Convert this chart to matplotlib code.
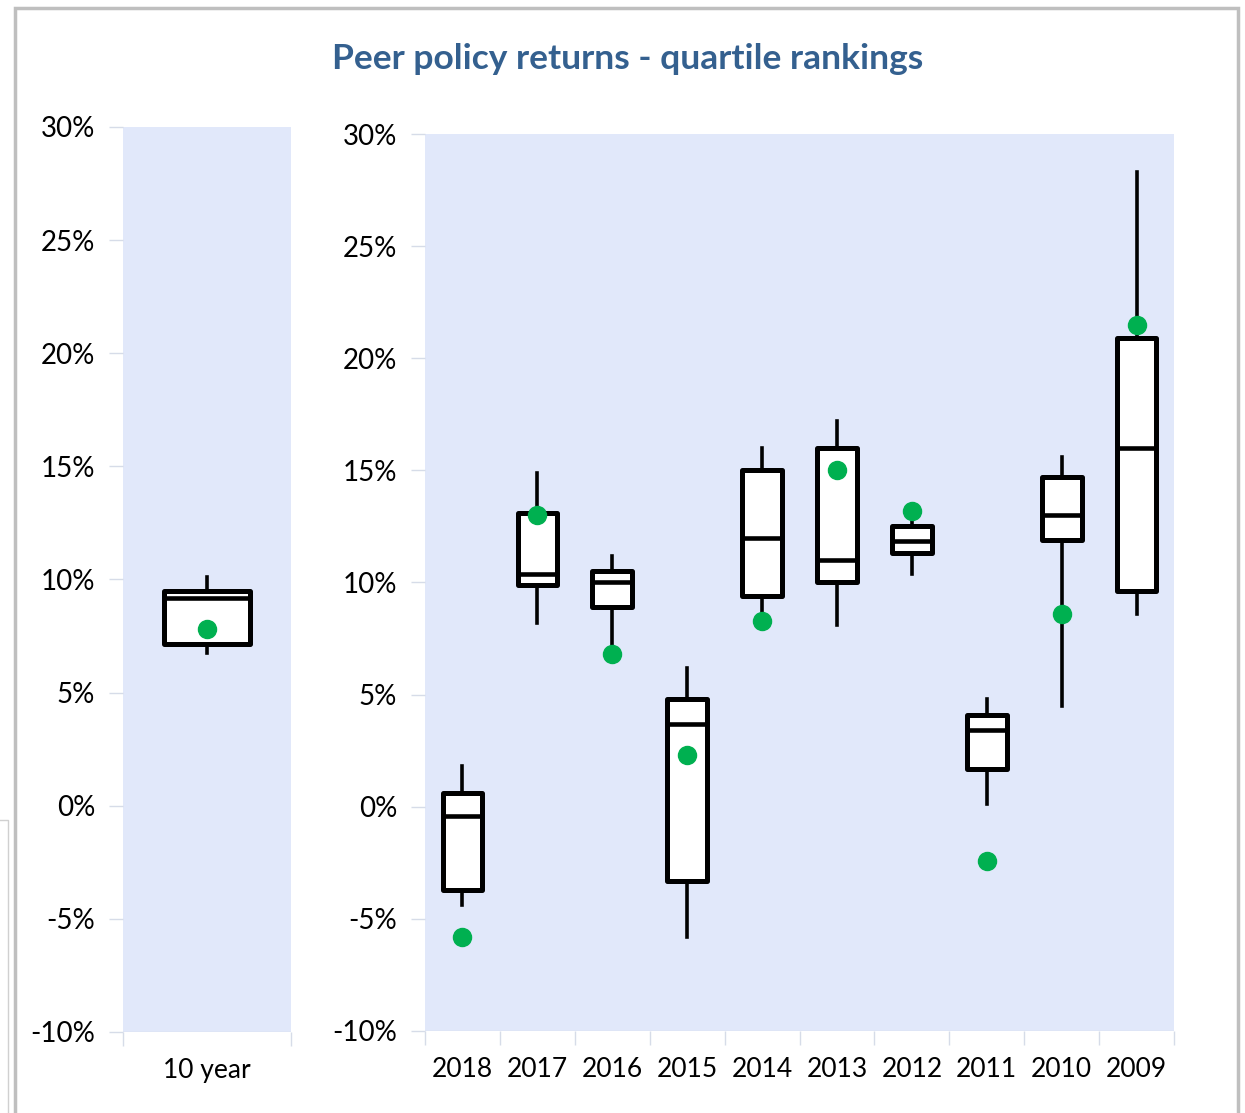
import matplotlib.pyplot as plt
from matplotlib.lines import Line2D
from matplotlib.patches import Rectangle
from matplotlib.ticker import FuncFormatter

plt.rcParams['font.family'] = ['Lato', 'DejaVu Sans']

years = ['2018', '2017', '2016', '2015', '2014', '2013', '2012', '2011', '2010', '2009']
whisk_hi = [1.8, 14.9, 11.2, 6.2, 16.0, 17.2, 13.1, 4.8, 15.6, 28.3]
q3 = [0.6, 13.1, 10.5, 4.8, 15.0, 16.0, 12.5, 4.1, 14.7, 20.9]
median = [-0.4, 10.4, 10.0, 3.7, 12.0, 11.0, 11.85, 3.4, 13.0, 16.0]
q1 = [-3.7, 9.9, 8.9, -3.3, 9.4, 10.0, 11.3, 1.7, 11.9, 9.6]
whisk_lo = [-4.4, 8.2, 7.2, -5.8, 8.7, 8.1, 10.4, 0.1, 4.5, 8.6]
policy = [-5.8, 13.0, 6.8, 2.3, 8.3, 15.0, 13.2, -2.4, 8.6, 21.5]

ten_label = '10 year'
ten_stats = [10.1, 9.5, 9.2, 7.15, 6.75]  # whisker hi, q3, median, q1, whisker lo
ten_policy = 7.8

bg = '#E1E8FA'
tick_col = '#D6DCE8'
box_kw = dict(boxprops=dict(edgecolor='black', linewidth=3.6, facecolor='white', joinstyle='round'),
              medianprops=dict(color='black', linewidth=3.3),
              whiskerprops=dict(color='black', linewidth=2.6),
              capprops=dict(linewidth=0), patch_artist=True, showfliers=False)

fig = plt.figure(figsize=(12.45, 11.13), dpi=100)
ax1 = fig.add_axes([0.0988, 0.0728, 0.135, 0.8131])
ax2 = fig.add_axes([0.3414, 0.0737, 0.6016, 0.8059])


def pct(v, pos):
    return '%d%%' % round(v)


# left panel: 10 year
st = [dict(whishi=ten_stats[0], q3=ten_stats[1], med=ten_stats[2], q1=ten_stats[3],
           whislo=ten_stats[4], label=ten_label)]
ax1.bxp(st, positions=[0], widths=0.51, **box_kw)
ax1.plot([0], [ten_policy], 'o', color='#00B050', markersize=13, zorder=5)
ax1.set_xlim(-0.5, 0.5)
ax1.set_xticks([-0.5, 0.5], minor=True)
ax1.set_xticks([0])
ax1.set_xticklabels([ten_label])

# right panel: yearly
stats = []
for i in range(len(years)):
    stats.append(dict(whishi=whisk_hi[i], q3=q3[i], med=median[i], q1=q1[i],
                      whislo=whisk_lo[i], label=years[i]))
pos = list(range(len(years)))
ax2.bxp(stats, positions=pos, widths=0.53, **box_kw)
ax2.plot(pos, policy, 'o', color='#00B050', markersize=13, linestyle='none', zorder=5)
ax2.set_xlim(-0.5, len(years) - 0.5)
ax2.set_xticks([p - 0.5 for p in range(len(years) + 1)], minor=True)
ax2.set_xticks(pos)
ax2.set_xticklabels(years)

for ax in (ax1, ax2):
    ax.set_facecolor(bg)
    ax.set_ylim(-10, 30)
    ax.set_yticks(range(-10, 31, 5))
    ax.yaxis.set_major_formatter(FuncFormatter(pct))
    for s in ax.spines.values():
        s.set_visible(False)
    ax.tick_params(axis='y', length=10, color=tick_col, width=1, labelsize=20, pad=10)
    ax.tick_params(axis='x', which='major', length=0, labelsize=19, pad=19)
    ax.tick_params(axis='x', which='minor', length=10, color=tick_col, width=1)
    ax.axhline(-10, color=tick_col, linewidth=1, zorder=0.5)

fig.text(0.504, 0.947, 'Peer policy returns - quartile rankings', ha='center', va='center',
         fontsize=25.5, fontweight='bold', color='#34608F')

# chart frame
fig.add_artist(Rectangle((15 / 1245, -0.01), 1223 / 1245, 1 - 8 / 1113 + 0.01,
                         transform=fig.transFigure, fill=False, edgecolor='#BFBFBF', linewidth=2.5))
fig.add_artist(Line2D([0, 8 / 1245, 8 / 1245], [1 - 820 / 1113, 1 - 820 / 1113, 0],
                      transform=fig.transFigure, color='#D0D0D0', linewidth=1))

fig.savefig('out.png', dpi=100)
